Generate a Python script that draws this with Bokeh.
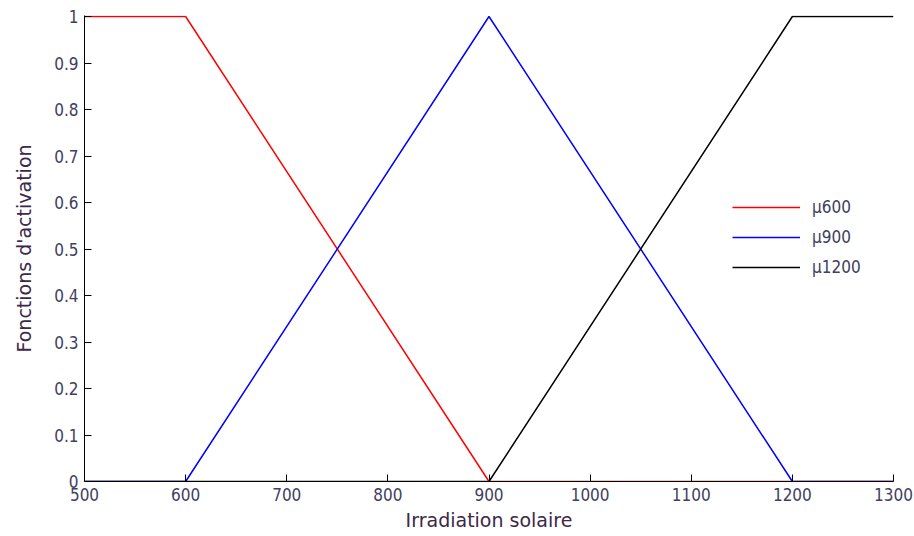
from bokeh.plotting import figure
from bokeh.models import Range1d, FixedTicker, Legend, LegendItem
from bokeh.embed import file_html
from bokeh.resources import INLINE

# data
x600 = [500, 600, 900, 1300]
y600 = [1, 1, 0, 0]
x900 = [500, 600, 900, 1200, 1300]
y900 = [0, 0, 1, 0, 0]
x1200 = [500, 900, 1200, 1300]
y1200 = [0, 0, 1, 1]
xticks = [500, 600, 700, 800, 900, 1000, 1100, 1200, 1300]
yticks = [0, 0.1, 0.2, 0.3, 0.4, 0.5, 0.6, 0.7, 0.8, 0.9, 1]
labels = ["\u03bc600", "\u03bc900", "\u03bc1200"]
colors = ["red", "blue", "black"]

FONT = "'DejaVu Sans Condensed', 'Liberation Sans', sans-serif"

p = figure(width=914, height=536, output_backend="svg", toolbar_location=None,
           x_range=Range1d(500, 1300), y_range=Range1d(0, 1.0022),
           min_border_left=84, min_border_right=21, min_border_top=15, min_border_bottom=55)
p.frame_width = 809
p.frame_height = 466
p.outline_line_color = None
p.grid.visible = False
p.background_fill_color = "white"
p.border_fill_color = "white"

r1 = p.line(x600, y600, line_color=colors[0], line_width=1.5)
r2 = p.line(x900, y900, line_color=colors[1], line_width=1.5)
r3 = p.line(x1200, y1200, line_color=colors[2], line_width=1.5)

for ax in (p.xaxis[0], p.yaxis[0]):
    ax.axis_line_color = "black"
    ax.axis_line_width = 1
    ax.major_tick_in = 7
    ax.major_tick_out = 0
    ax.minor_tick_line_color = None
    ax.major_label_text_font = FONT
    ax.major_label_text_font_size = "17px"
    ax.major_label_text_color = "#404060"
    ax.axis_label_text_font = "DejaVu Sans"
    ax.axis_label_text_font_size = "19px"
    ax.axis_label_text_font_style = "normal"
    ax.axis_label_text_color = "#3c2848"

p.xaxis.ticker = FixedTicker(ticks=xticks)
p.yaxis.ticker = FixedTicker(ticks=yticks)
p.yaxis.major_label_overrides = {0: "0", 1: "1"}
p.xaxis.axis_label = "Irradiation solaire"
p.yaxis.axis_label = "Fonctions d'activation"
p.xaxis.major_label_standoff = 6
p.xaxis.axis_label_standoff = 5
p.yaxis.major_label_standoff = 6
p.yaxis.axis_label_standoff = 16

lg = Legend(items=[LegendItem(label=l, renderers=[r]) for l, r in zip(labels, [r1, r2, r3])],
            location=(648, 199), padding=0, margin=0, spacing=0,
            glyph_width=68, glyph_height=30, label_standoff=12,
            border_line_color=None, background_fill_alpha=0,
            label_text_font=FONT, label_text_font_size="17px",
            label_text_color="#404060")
p.add_layout(lg, "center")

open("out.html", "w").write(file_html(p, INLINE))
